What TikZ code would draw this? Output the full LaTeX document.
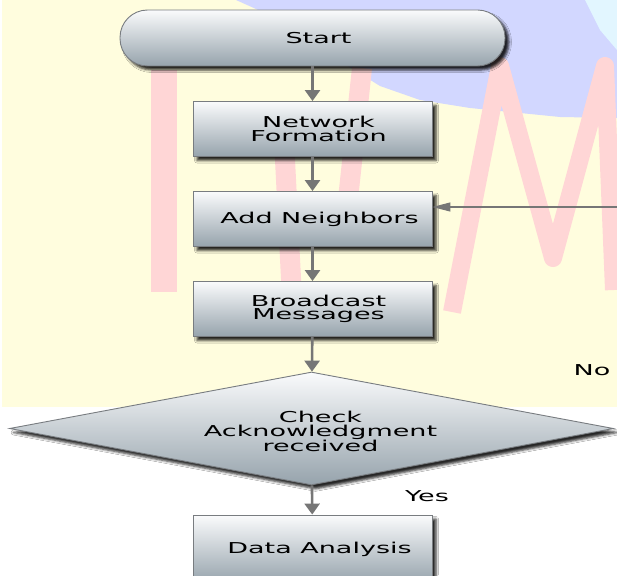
\documentclass[tikz,border=0pt]{standalone}
\usepackage{fontspec}
\newfontfamily\flowfont[FakeStretch=1.8]{DejaVu Sans}
\usepackage{tikz}
\usetikzlibrary{arrows.meta}
\usetikzlibrary{shadows.blur}
\usetikzlibrary{shapes.geometric}
\definecolor{boxtop}{RGB}{250,251,252}
\definecolor{boxbot}{RGB}{150,163,172}
\definecolor{boxline}{RGB}{120,124,128}
\definecolor{flowgray}{RGB}{118,118,118}
\definecolor{bgyellow}{RGB}{255,253,222}
\definecolor{markpink}{RGB}{255,214,214}
\definecolor{markblue}{RGB}{210,215,255}
\definecolor{markcyan}{RGB}{226,246,255}

\begin{document}
\begin{tikzpicture}[x=1pt,y=1pt,yscale=-1,xscale=1,
  shade box/.style={draw=boxline,line width=0.9pt,top color=boxtop,bottom color=boxbot,blur shadow={shadow xshift=4pt,shadow yshift=-4pt,shadow blur radius=2.5pt,shadow opacity=85}},
  procbox/.style={shade box,rectangle,minimum width=239pt,minimum height=55pt,inner sep=0pt},
  termbox/.style={shade box,rectangle,rounded corners=27.5pt,minimum width=385pt,minimum height=56pt,inner sep=0pt},
  decbox/.style={shade box,diamond,aspect=5.3,minimum width=604pt,minimum height=113pt,inner sep=0pt},
  lbl/.style={font=\flowfont\fontsize{15}{13.5}\selectfont,align=center,inner sep=0pt,text=black},
  flow/.style={draw=flowgray,line width=2.6pt,-{Triangle[length=11pt,width=15pt]}},
  backflow/.style={draw=flowgray,line width=1.1pt,-{Triangle[length=18pt,width=9pt]}}]
\useasboundingbox (0,0) rectangle (617,575);
\clip (0,0) rectangle (617,575);
\fill [white] (0,0) rectangle (617,575);
\fill [bgyellow] (2,0) rectangle (617,407);
\fill [markblue] (236,0) -- (617,0) -- (617,118) -- (560,117) -- (470,108) -- (420,100) -- (380,86) -- (330,55) -- (285,22) -- cycle;
\fill [markcyan] (585,0) -- (617,0) -- (617,50) -- (600,30) -- cycle;
\draw [markpink,line width=26pt] (164,70) -- (164,292);
\draw [markpink,line width=20pt] (362,68) -- (346,218);
\draw [markpink,line width=20pt] (284,140) -- (292,298);
\draw [markpink,line width=18pt,line join=round] (452,312) -- (500,66) -- (553,258) -- (605,66) -- (614,290);

\node [termbox,label={[lbl,xshift=6pt]center:Start}] (start) at (312.5,38) {};
\node [procbox,label={[lbl,xshift=6pt]center:Network\\Formation}] (nf) at (312.5,129) {};
\node [procbox,label={[lbl,xshift=7pt]center:Add Neighbors}] (an) at (312.5,219) {};
\node [procbox,label={[lbl,xshift=6pt]center:Broadcast\\Messages}] (bm) at (312.5,309) {};
\node [decbox,label={[lbl,xshift=9pt,yshift=-3pt]center:Check\\Acknowledgment\\received}] (chk) at (311.5,428.5) {};
\node [procbox,minimum height=68pt,label={[lbl,xshift=7pt]center:Data Analysis}] (da) at (312.5,549) {};
\node [lbl] (no) at (592,370) {No};
\node [lbl] (yes) at (427,496) {Yes};
\coordinate (back) at (617,207);

\draw [flow] (start) -- (nf);
\draw [flow] (nf) -- (an);
\draw [flow] (an) -- (bm);
\draw [flow] (bm) -- (chk);
\draw [flow] (chk) -- (da);
\draw [backflow] (back) -- (back -| an.east);
\end{tikzpicture}
\end{document}
